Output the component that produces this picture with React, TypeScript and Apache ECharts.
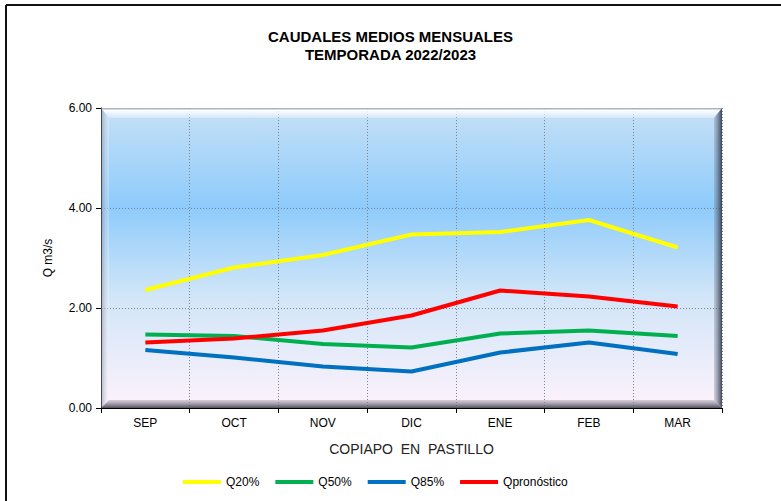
import React, { useEffect, useRef } from "react";
import * as echarts from "echarts";

const categories = ["SEP", "OCT", "NOV", "DIC", "ENE", "FEB", "MAR"];
const q20 = [2.36, 2.81, 3.06, 3.47, 3.52, 3.76, 3.21];
const q50 = [1.47, 1.44, 1.28, 1.21, 1.49, 1.55, 1.44];
const q85 = [1.16, 1.01, 0.83, 0.73, 1.11, 1.31, 1.08];
const qpron = [1.31, 1.39, 1.55, 1.85, 2.35, 2.23, 2.03];
const yTicks = { min: 0, max: 6, interval: 2 };

const X0 = 101, X1 = 722, Y0 = 108, Y1 = 408, B = 8;

export default function App() {
  const ref = useRef<HTMLDivElement>(null);
  useEffect(() => {
    const chart = echarts.init(ref.current!, null, { renderer: "svg" });
    const font = "Arial, 'Liberation Sans', sans-serif";
    const mk = (name: string, data: number[], color: string) => ({
      name,
      type: "line",
      data,
      symbol: "none",
      lineStyle: { color, width: 4 },
      itemStyle: { color },
      z: 5,
    });
    chart.setOption({
      animation: false,
      backgroundColor: "#ffffff",
      title: {
        text: "CAUDALES MEDIOS MENSUALES\nTEMPORADA 2022/2023",
        left: "center",
        top: 22,
        textStyle: { fontFamily: font, fontWeight: "bold", fontSize: 15, color: "#000", lineHeight: 18 },
      },
      grid: {
        left: X0, right: 781 - X1, top: Y0, bottom: 501 - Y1,
        show: true,
        borderWidth: 0,
        backgroundColor: new echarts.graphic.LinearGradient(0, 0, 0, 1, [
          { offset: 0, color: "#c6e0f6" },
          { offset: 0.33, color: "#8ecbfb" },
          { offset: 0.62, color: "#d0e5f8" },
          { offset: 1, color: "#fdf2fb" },
        ]),
      },
      legend: {
        bottom: 8,
        left: 178,
        itemWidth: 38,
        itemHeight: 4,
        itemGap: 16,
        icon: "rect",
        textStyle: { fontFamily: font, fontSize: 12, color: "#000" },
        data: ["Q20%", "Q50%", "Q85%", "Qpronóstico"],
      },
      xAxis: {
        type: "category",
        data: categories,
        boundaryGap: true,
        name: "COPIAPO  EN  PASTILLO",
        nameLocation: "middle",
        nameGap: 34,
        nameTextStyle: { fontFamily: font, fontSize: 14, color: "#222" },
        axisLine: { show: true, lineStyle: { color: "#000", width: 1 } },
        axisTick: { show: true, inside: false, length: 5, lineStyle: { color: "#000" } },
        axisLabel: { fontFamily: font, fontSize: 12, color: "#000", margin: 9 },
        splitLine: { show: true, lineStyle: { color: "#7a8494", type: [1, 2], width: 1 } },
      },
      yAxis: {
        type: "value",
        min: yTicks.min,
        max: yTicks.max,
        interval: yTicks.interval,
        name: "Q m3/s",
        nameLocation: "middle",
        nameGap: 47,
        nameRotate: 90,
        nameTextStyle: { fontFamily: font, fontSize: 12, color: "#000" },
        axisLine: { show: true, lineStyle: { color: "#000", width: 1 } },
        axisTick: { show: true, inside: false, length: 5, lineStyle: { color: "#000" } },
        axisLabel: { fontFamily: font, fontSize: 12, color: "#000", margin: 9, formatter: (v: number) => v.toFixed(2) },
        splitLine: { show: true, lineStyle: { color: "#7a8494", type: [1, 2], width: 1 } },
      },
      graphic: [
        { type: "line", shape: { x1: 6, y1: 5, x2: 781, y2: 5 }, style: { stroke: "#111", lineWidth: 2 } },
        { type: "line", shape: { x1: 6, y1: 5, x2: 6, y2: 501 }, style: { stroke: "#111", lineWidth: 2 } },
        {
          type: "polygon", z: 1,
          shape: { points: [[X0, Y0], [X1, Y0], [X1 - B, Y0 + B + 2], [X0 + B, Y0 + B + 2]] },
          style: {
            fill: new echarts.graphic.LinearGradient(0, 0, 0, 1, [
              { offset: 0, color: "rgba(150,160,175,0.9)" },
              { offset: 0.25, color: "rgba(255,255,255,0.95)" },
              { offset: 1, color: "rgba(255,255,255,0.25)" },
            ]),
          },
        },
        {
          type: "polygon", z: 1,
          shape: { points: [[X0, Y0], [X0 + B, Y0 + B + 2], [X0 + B, Y1 - B], [X0, Y1]] },
          style: {
            fill: new echarts.graphic.LinearGradient(0, 0, 1, 0, [
              { offset: 0, color: "rgba(120,130,150,0.55)" },
              { offset: 1, color: "rgba(255,255,255,0.25)" },
            ]),
          },
        },
        {
          type: "polygon", z: 1,
          shape: { points: [[X1, Y0], [X1, Y1], [X1 - B, Y1 - B], [X1 - B, Y0 + B + 2]] },
          style: {
            fill: new echarts.graphic.LinearGradient(0, 0, 1, 0, [
              { offset: 0, color: "rgba(120,130,150,0.3)" },
              { offset: 1, color: "rgba(40,50,70,0.9)" },
            ]),
          },
        },
        {
          type: "polygon", z: 1,
          shape: { points: [[X0, Y1], [X0 + B, Y1 - B], [X1 - B, Y1 - B], [X1, Y1]] },
          style: {
            fill: new echarts.graphic.LinearGradient(0, 0, 0, 1, [
              { offset: 0, color: "rgba(180,170,185,0.5)" },
              { offset: 1, color: "rgba(60,60,75,0.9)" },
            ]),
          },
        },
      ],
      series: [
        mk("Q20%", q20, "#ffff00"),
        mk("Q50%", q50, "#00b050"),
        mk("Q85%", q85, "#0070c0"),
        mk("Qpronóstico", qpron, "#ff0000"),
      ],
    });
    return () => chart.dispose();
  }, []);
  return <div ref={ref} style={{ width: 781, height: 501, position: "absolute", left: 0, top: 0 }} />;
}
